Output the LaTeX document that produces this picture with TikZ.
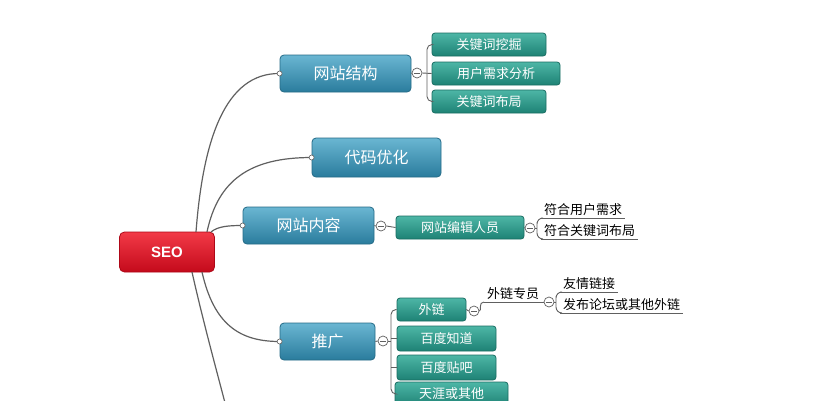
\documentclass[tikz,border=0pt]{standalone}
\usepackage{fontspec}
\newfontfamily\cjk{Noto Sans CJK SC}
\newfontfamily\latinsans{Liberation Sans}
\definecolor{bluetop}{HTML}{6AB6D2}
\definecolor{bluebot}{HTML}{2A7C9D}
\definecolor{blueline}{HTML}{256B87}
\definecolor{greentop}{HTML}{4DB6A6}
\definecolor{greenbot}{HTML}{1E8275}
\definecolor{greenline}{HTML}{1A6E63}
\definecolor{redtop}{HTML}{F23A47}
\definecolor{redbot}{HTML}{C40A1B}
\definecolor{redline}{HTML}{AE0818}
\definecolor{connc}{HTML}{606060}
\tikzset{
  bluebox/.style={rounded corners=4pt, draw=blueline, line width=0.8pt, top color=bluetop, bottom color=bluebot, text=white, font=\cjk\fontsize{16}{16}\selectfont, inner sep=0pt},
  greenbox/.style={rounded corners=3pt, draw=greenline, line width=0.8pt, top color=greentop, bottom color=greenbot, text=white, font=\cjk\fontsize{13}{13}\selectfont, inner sep=0pt},
  redbox/.style={rounded corners=5pt, draw=redline, line width=0.8pt, top color=redtop, bottom color=redbot, text=white, font=\latinsans\bfseries\fontsize{15}{15}\selectfont, inner sep=0pt},
  freetext/.style={font=\cjk\fontsize{13}{13}\selectfont, text=black, inner xsep=3pt, inner ysep=2pt},
  conn/.style={draw=connc, line width=1.2pt},
  thin conn/.style={draw=connc, line width=0.9pt},
  minuscirc/.style={circle, draw=connc, fill=white, line width=0.7pt, minimum size=10pt, inner sep=0pt,
    path picture={\draw[connc, line width=0.8pt] ([xshift=-2.6pt]path picture bounding box.center) -- ([xshift=2.6pt]path picture bounding box.center);}},
  dotcirc/.style={circle, draw=connc, fill=white, line width=0.6pt, minimum size=5pt, inner sep=0pt}
}
\begin{document}
\begin{tikzpicture}[x=1pt, y=-1pt]
\useasboundingbox (0,0) rectangle (819,400);
\clip (0,0) rectangle (819,400);
\fill[white] (0,0) rectangle (819,400);

% root
\node[redbox, minimum width=95pt, minimum height=40pt] (seo) at (167,252) {SEO};

% main topics
\node[bluebox, minimum width=131pt, minimum height=37pt] (ws) at (345.5,73.5) {网站结构};
\node[bluebox, minimum width=129pt, minimum height=39pt] (dm) at (376.5,157.5) {代码优化};
\node[bluebox, minimum width=131pt, minimum height=37pt] (nr) at (308.5,225.5) {网站内容};
\node[bluebox, minimum width=95pt, minimum height=37pt] (tg) at (327.5,341.5) {推广};

% sub topics
\node[greenbox, minimum width=114pt, minimum height=23pt] (k1) at (489,44.5) {关键词挖掘};
\node[greenbox, minimum width=128pt, minimum height=23pt] (k2) at (496,73.5) {用户需求分析};
\node[greenbox, minimum width=114pt, minimum height=23pt] (k3) at (489,101.5) {关键词布局};
\node[greenbox, minimum width=128pt, minimum height=23pt] (bj) at (460,227.5) {网站编辑人员};
\node[greenbox, minimum width=69pt, minimum height=23pt] (wl) at (431.5,309.5) {外链};
\node[greenbox, minimum width=99pt, minimum height=25pt] (bz) at (446.5,338.5) {百度知道};
\node[greenbox, minimum width=99pt, minimum height=25pt] (bt) at (446.5,367.5) {百度贴吧};
\node[greenbox, minimum width=113pt, minimum height=24pt] (ty) at (451.5,394) {天涯或其他};

% free texts
\node[freetext, anchor=south west] (t1) at (541,218) {符合用户需求};
\node[freetext, anchor=south west] (t2) at (541,239) {符合关键词布局};
\node[freetext, anchor=south west] (t0) at (484,302) {外链专员};
\node[freetext, anchor=south west] (t3) at (560,292) {友情链接};
\node[freetext, anchor=south west] (t4) at (560,313) {发布论坛或其他外链};

% collapse markers
\node[minuscirc] (m1) at (417,73) {};
\node[minuscirc] (m2) at (381,226) {};
\node[minuscirc] (m3) at (530,228) {};
\node[minuscirc] (m4) at (383,341) {};
\node[minuscirc] (m5) at (474,311) {};
\node[minuscirc] (m6) at (549,302) {};

% root anchor points
\coordinate (s1) at (196,232);
\coordinate (s2) at (207,232);
\coordinate (s3) at (211,232);
\coordinate (s4) at (202,272);
\coordinate (s5) at (192,272);
\coordinate (offb) at (232,430);

% root connectors
\draw[conn] (s1) .. controls (203,140) and (225,73) .. (ws.west);
\draw[conn] (s2) .. controls (218,180) and (250,157.5) .. (dm.west);
\draw[conn] (s3) .. controls (218,226) and (230,225.5) .. (nr.west);
\draw[conn] (s4) .. controls (214,325) and (240,341.5) .. (tg.west);
\draw[conn] (s5) .. controls (205,330) and (222,390) .. (offb);

% endpoint dots
\node[dotcirc] at (ws.west) {};
\node[dotcirc] at (dm.west) {};
\node[dotcirc] at (nr.west) {};
\node[dotcirc] at (tg.west) {};

% 网站结构 branch
\coordinate (j1) at (427,73);
\draw[thin conn] (ws.east) -- (m1.west);
\draw[thin conn] (m1.east) -- (k2.west);
\draw[thin conn, rounded corners=5pt] (k1.west) -| (j1) |- (k3.west);

% 网站内容 branch
\draw[thin conn] (nr.east) -- (m2.west);
\draw[thin conn] (m2.east) -- (bj.west);
\draw[thin conn] (bj.east) -- (m3.west);
\coordinate (j3) at (537,228);
\draw[thin conn] (m3.east) -- (j3);
\draw[thin conn, rounded corners=6pt] (t1.south west) -| (j3) |- (t2.south west);
\draw[thin conn] (t1.south west) -- (t1.south east);
\draw[thin conn] (t2.south west) -- (t2.south east);

% 推广 branch
\draw[thin conn] (tg.east) -- (m4.west);
\coordinate (j4) at (391,341);
\draw[thin conn] (m4.east) -- (j4);
\draw[thin conn, rounded corners=5pt] (wl.west) -| (j4) |- (ty.west);
\draw[thin conn] (bz.west) -- (bz.west -| j4);
\draw[thin conn] (bt.west) -- (bt.west -| j4);

% 外链 branch
\draw[thin conn] (wl.east) -- (m5.west);
\draw[thin conn] (m5.east) .. controls (482,311) and (478,302) .. (t0.south west);
\draw[thin conn] (t0.south west) -- (m6.west);
\coordinate (j6) at (556,302);
\draw[thin conn] (m6.east) -- (j6);
\draw[thin conn, rounded corners=6pt] (t3.south west) -| (j6) |- (t4.south west);
\draw[thin conn] (t3.south west) -- (t3.south east);
\draw[thin conn] (t4.south west) -- (t4.south east);
\end{tikzpicture}
\end{document}
